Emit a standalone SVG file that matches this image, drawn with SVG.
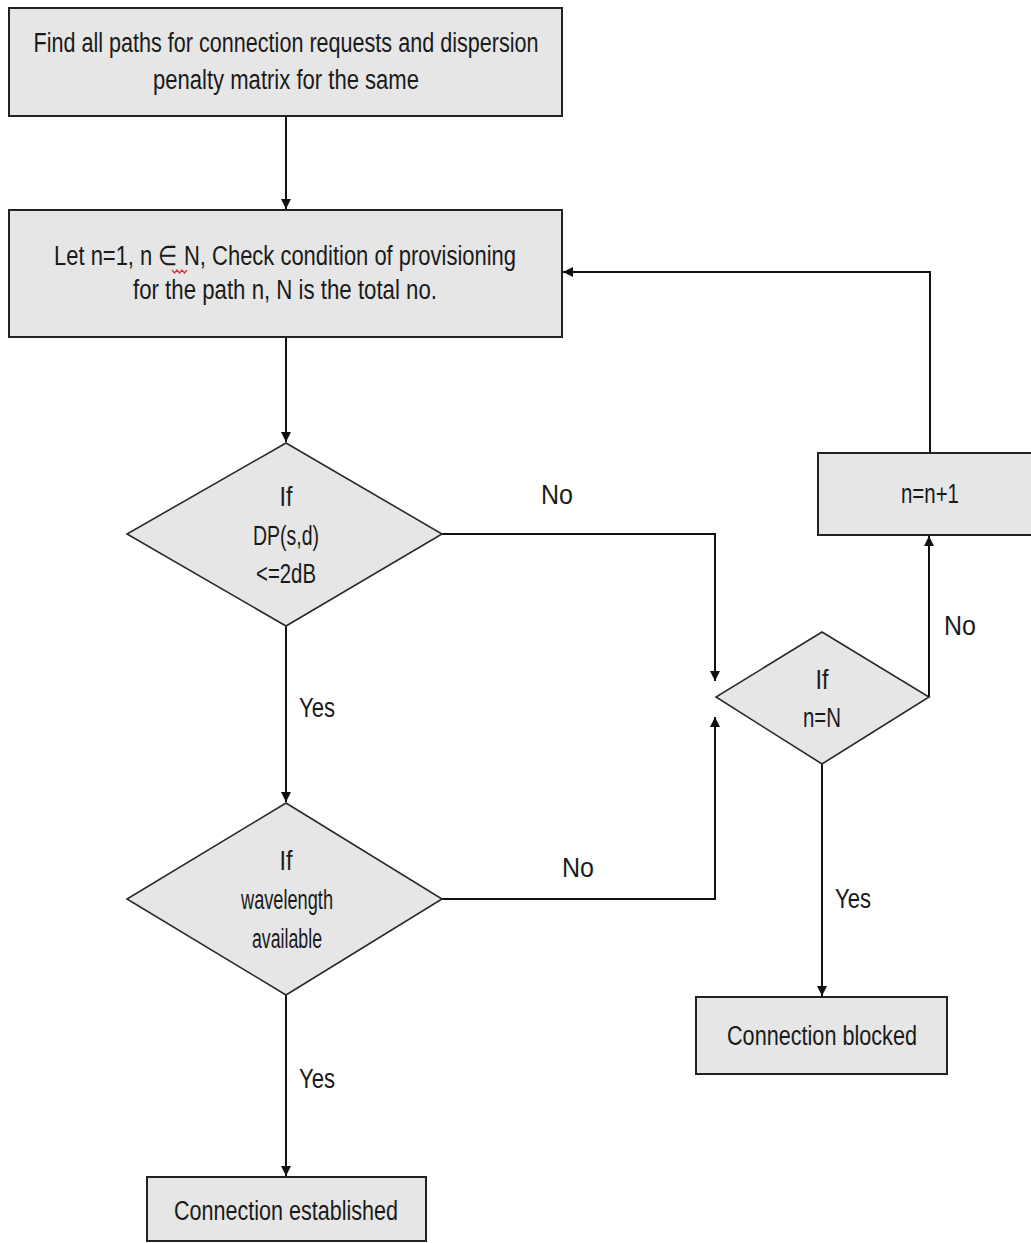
<svg xmlns="http://www.w3.org/2000/svg" width="1031" height="1243" viewBox="0 0 1031 1243">
  <style>
    .box { fill: #e6e6e6; stroke: #222; stroke-width: 2; }
    .dia { fill: #e6e6e6; stroke: #2a2a2a; stroke-width: 1.6; }
    .t { font-family: "Liberation Sans", Arial, sans-serif; font-size: 27px; fill: #1a1a1a; text-anchor: middle; }
    .edge { fill: none; stroke: #111; stroke-width: 2; }
  </style>
  <defs>
    <marker id="arrow" viewBox="0 0 10 10" refX="10" refY="5" markerWidth="11" markerHeight="10" markerUnits="userSpaceOnUse" orient="auto">
      <path d="M0,0 L10,5 L0,10 z" fill="#111"/>
    </marker>
  </defs>
  <rect width="1031" height="1243" fill="#ffffff"/>

  <!-- connectors -->
  <g id="connectors">
    <path class="edge" d="M286,116 V209" marker-end="url(#arrow)"/>
    <path class="edge" d="M286,337 V442" marker-end="url(#arrow)"/>
    <path class="edge" d="M286,626 V802" marker-end="url(#arrow)"/>
    <path class="edge" d="M286,995 V1176" marker-end="url(#arrow)"/>
    <path class="edge" d="M442,534 H715 V681" marker-end="url(#arrow)"/>
    <path class="edge" d="M442,899 H715 V717" marker-end="url(#arrow)"/>
    <path class="edge" d="M929,697 V536" marker-end="url(#arrow)"/>
    <path class="edge" d="M930,453 V272 H563" marker-end="url(#arrow)"/>
    <path class="edge" d="M822,764 V996" marker-end="url(#arrow)"/>
    <text class="t" x="557" y="504" textLength="32" lengthAdjust="spacingAndGlyphs">No</text>
    <text class="t" x="578" y="877" textLength="32" lengthAdjust="spacingAndGlyphs">No</text>
    <text class="t" x="960" y="635" textLength="32" lengthAdjust="spacingAndGlyphs">No</text>
    <text class="t" x="317" y="717" textLength="36" lengthAdjust="spacingAndGlyphs">Yes</text>
    <text class="t" x="853" y="908" textLength="36" lengthAdjust="spacingAndGlyphs">Yes</text>
    <text class="t" x="317" y="1088" textLength="36" lengthAdjust="spacingAndGlyphs">Yes</text>
  </g>

  <!-- nodes -->
  <g id="find-paths">
    <rect class="box" x="9" y="8" width="553" height="108"/>
    <text class="t" x="286" y="52" textLength="505" lengthAdjust="spacingAndGlyphs">Find all paths for connection requests and dispersion</text>
    <text class="t" x="286" y="89" textLength="266" lengthAdjust="spacingAndGlyphs">penalty matrix for the same</text>
  </g>

  <g id="init-check">
    <rect class="box" x="9" y="210" width="553" height="127"/>
    <text class="t" x="285" y="265" textLength="462" lengthAdjust="spacingAndGlyphs">Let n=1,  n ∈ N, Check condition of provisioning</text>
    <text class="t" x="285" y="299" textLength="304" lengthAdjust="spacingAndGlyphs">for the path n, N is the total no.</text>
    <path d="M172,270 l2.5,3 l2.5,-3 l2.5,3 l2.5,-3 l2.5,3 l2.5,-3" fill="none" stroke="#e03030" stroke-width="1.2"/>
  </g>

  <g id="dp-check">
    <polygon class="dia" points="286,443 442,534 286,626 127,534"/>
    <text class="t" x="286" y="506" textLength="13" lengthAdjust="spacingAndGlyphs">If</text>
    <text class="t" x="286" y="545" textLength="66" lengthAdjust="spacingAndGlyphs">DP(s,d)</text>
    <text class="t" x="286" y="583" textLength="60" lengthAdjust="spacingAndGlyphs">&lt;=2dB</text>
  </g>

  <g id="wavelength-check">
    <polygon class="dia" points="286,803 442,899 286,995 127,899"/>
    <text class="t" x="286" y="870" textLength="13" lengthAdjust="spacingAndGlyphs">If</text>
    <text class="t" x="287" y="909" textLength="92" lengthAdjust="spacingAndGlyphs">wavelength</text>
    <text class="t" x="287" y="948" textLength="70" lengthAdjust="spacingAndGlyphs">available</text>
  </g>

  <g id="last-path-check">
    <polygon class="dia" points="822,632 929,697 822,764 716,697"/>
    <text class="t" x="822" y="689" textLength="13" lengthAdjust="spacingAndGlyphs">If</text>
    <text class="t" x="822" y="727" textLength="38" lengthAdjust="spacingAndGlyphs">n=N</text>
  </g>

  <g id="increment">
    <rect class="box" x="818" y="453" width="220" height="82"/>
    <text class="t" x="930" y="503" textLength="58" lengthAdjust="spacingAndGlyphs">n=n+1</text>
  </g>

  <g id="blocked">
    <rect class="box" x="696" y="997" width="251" height="77"/>
    <text class="t" x="822" y="1045" textLength="190" lengthAdjust="spacingAndGlyphs">Connection blocked</text>
  </g>

  <g id="established">
    <rect class="box" x="147" y="1177" width="279" height="64"/>
    <text class="t" x="286" y="1220" textLength="224" lengthAdjust="spacingAndGlyphs">Connection established</text>
  </g>
</svg>
